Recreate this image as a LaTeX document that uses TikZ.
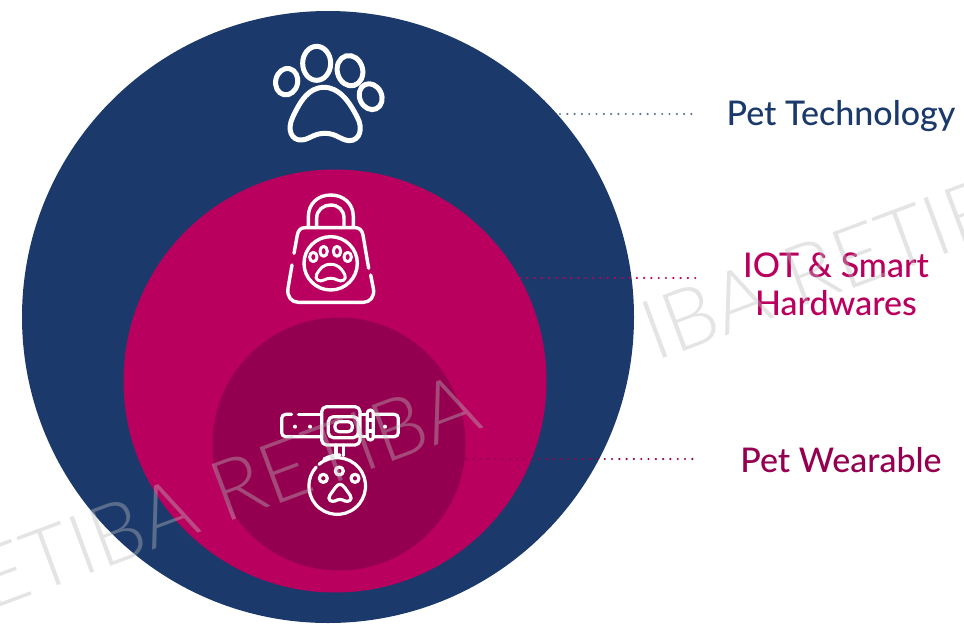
\documentclass[tikz,border=0pt]{standalone}
\usepackage{fontspec}
\setmainfont{Lato Medium}
\newfontfamily\wm{Lato Light}
\usetikzlibrary{calc}
\definecolor{navy}{HTML}{1B3A6B}
\definecolor{berry}{HTML}{BA005E}
\definecolor{plum}{HTML}{94004F}
\definecolor{wmgray}{HTML}{BBBBBB}
\tikzset{
  disc/.style={circle,inner sep=0pt,minimum size=#1},
  leader/.style={line width=2.4pt,line cap=round,dash pattern=on 0pt off 7.3pt},
  lbl/.style={font=\fontsize{34}{38}\selectfont,align=center,inner sep=0pt},
  icon/.style={draw=white,line cap=round,line join=round,fill=none},
  watermark/.style={font=\wm\fontsize{84}{84}\selectfont,text=wmgray,text opacity=0.4,rotate=20.4,inner sep=0pt}
}
\begin{document}
\begin{tikzpicture}[x=1pt,y=-1pt]
\useasboundingbox (0,0) rectangle (964,626);
\clip (0,0) rectangle (964,626);
% circles
\node[disc=612pt,fill=navy] (outer) at (328,317) {};
\node[disc=423pt,fill=berry] (middle) at (335,381) {};
\node[disc=253pt,fill=plum] (inner) at (339,444) {};
% labels
\node[lbl,text=navy] (tech) at (841,116) {Pet Technology};
\node[lbl,text=berry] (iot) at (836,284) {IOT \& Smart\\Hardwares};
\node[lbl,text=plum] (wear) at (841,460) {Pet Wearable};
% leaders
\coordinate (t1) at (560,114); \coordinate (t2) at (692,114);
\coordinate (i1) at (520,278); \coordinate (i2) at (698,278);
\coordinate (w1) at (466,459); \coordinate (w2) at (694,459);
\draw[leader,navy!70!white] (t1) -- (t2);
\draw[leader,berry] (i1) -- (i2);
\draw[leader,plum] (w1) -- (w2);
% paw icon
\begin{scope}[shift={(250pt,-30pt)},x=0.33333pt,y=-0.33333pt,icon,line width=5pt]
  \draw[rotate around={-12:(110,155)}] (110,155) ellipse [x radius=33,y radius=40];
  \draw (200,100) ellipse [x radius=42,y radius=51];
  \draw[rotate around={15:(300,122)}] (300,122) ellipse [x radius=38,y radius=46];
  \draw[rotate around={25:(362,200)}] (362,200) ellipse [x radius=33,y radius=40];
  \draw (222,172) .. controls (175,172) and (150,215) .. (128,262)
     .. controls (110,300) and (125,332) .. (155,330)
     .. controls (180,328) and (190,310) .. (225,310)
     .. controls (260,310) and (270,330) .. (298,332)
     .. controls (330,332) and (340,295) .. (322,262)
     .. controls (298,215) and (268,172) .. (222,172) -- cycle;
\end{scope}
% bag icon
\begin{scope}[shift={(270pt,-185pt)},x=0.33333pt,y=-0.33333pt,icon,line width=3.4pt]
  \draw (115,125) -- (115,95) .. controls (115,55) and (145,30) .. (182,30) .. controls (220,30) and (250,55) .. (250,95) -- (250,125);
  \draw (140,125) -- (140,100) .. controls (140,75) and (160,60) .. (182,60) .. controls (205,60) and (222,75) .. (222,100) -- (222,125);
  \draw (72,205) -- (82,150) .. controls (85,135) and (92,128) .. (105,128) -- (255,128) .. controls (268,128) and (276,135) .. (279,150) -- (296,250);
  \draw (66,240) -- (54,310) .. controls (50,335) and (65,352) .. (85,352) -- (280,352) .. controls (300,352) and (315,335) .. (310,310) -- (302,270);
  \draw (182,235) circle [radius=80];
  \begin{scope}[line width=3pt]
  \draw (130,216) ellipse [x radius=11,y radius=14];
  \draw (161,199) ellipse [x radius=11,y radius=15];
  \draw (201,199) ellipse [x radius=11,y radius=15];
  \draw (233,216) ellipse [x radius=11,y radius=14];
  \draw (182,238) .. controls (160,238) and (150,250) .. (140,268) .. controls (132,285) and (150,292) .. (162,285) .. controls (175,278) and (190,278) .. (202,285) .. controls (215,292) and (232,285) .. (224,268) .. controls (214,250) and (204,238) .. (182,238) -- cycle;
  \end{scope}
\end{scope}
% collar icon
\begin{scope}[shift={(270pt,-395pt)},x=0.33333pt,y=-0.33333pt,icon,line width=3.2pt]
  \draw (65,58) -- (47,58) .. controls (40,58) and (35,63) .. (35,70) -- (35,113) .. controls (35,120) and (40,125) .. (47,125) -- (152,125);
  \draw (85,58) -- (152,58);
  \draw (312,58) -- (373,58) .. controls (380,58) and (385,63) .. (385,70) -- (385,113) .. controls (385,120) and (380,125) .. (373,125) -- (312,125);
  \draw (270,58) -- (292,58); \draw (268,125) -- (292,125);
  \draw[rounded corners=5pt] (155,35) rectangle (270,150);
  \draw[rounded corners=5pt] (175,65) rectangle (265,128);
  \draw[rounded corners=4pt] (195,80) rectangle (247,110);
  \draw[rounded corners=3pt] (292,45) rectangle (310,135);
  \draw (292,75) -- (310,75); \draw (292,108) -- (310,108);
  \fill[white] (75,95) circle [radius=6] (120,95) circle [radius=6] (345,95) circle [radius=6];
  \draw (198,150) -- (198,182); \draw (220,150) -- (220,182);
  \draw (147,208) arc [start angle=-130,end angle=222,radius=85];
  \draw (162,192) .. controls (178,183) and (195,180) .. (210,180);
  \draw (160,250) circle [radius=12];
  \draw (208,228) circle [radius=12];
  \draw (255,250) circle [radius=12];
  \draw (210,268) .. controls (200,268) and (195,280) .. (180,300) .. controls (170,315) and (185,322) .. (195,318) .. controls (205,312) and (215,312) .. (225,318) .. controls (235,322) and (250,315) .. (240,300) .. controls (225,280) and (220,268) .. (210,268) -- cycle;
\end{scope}
% watermarks
\node[watermark,anchor=base east] (wmlow) at (485,427) {RETIBA RETIBA};
\node[watermark,anchor=base west] (wmhigh) at (655,362) {IBA RETIBA};
\end{tikzpicture}
\end{document}
